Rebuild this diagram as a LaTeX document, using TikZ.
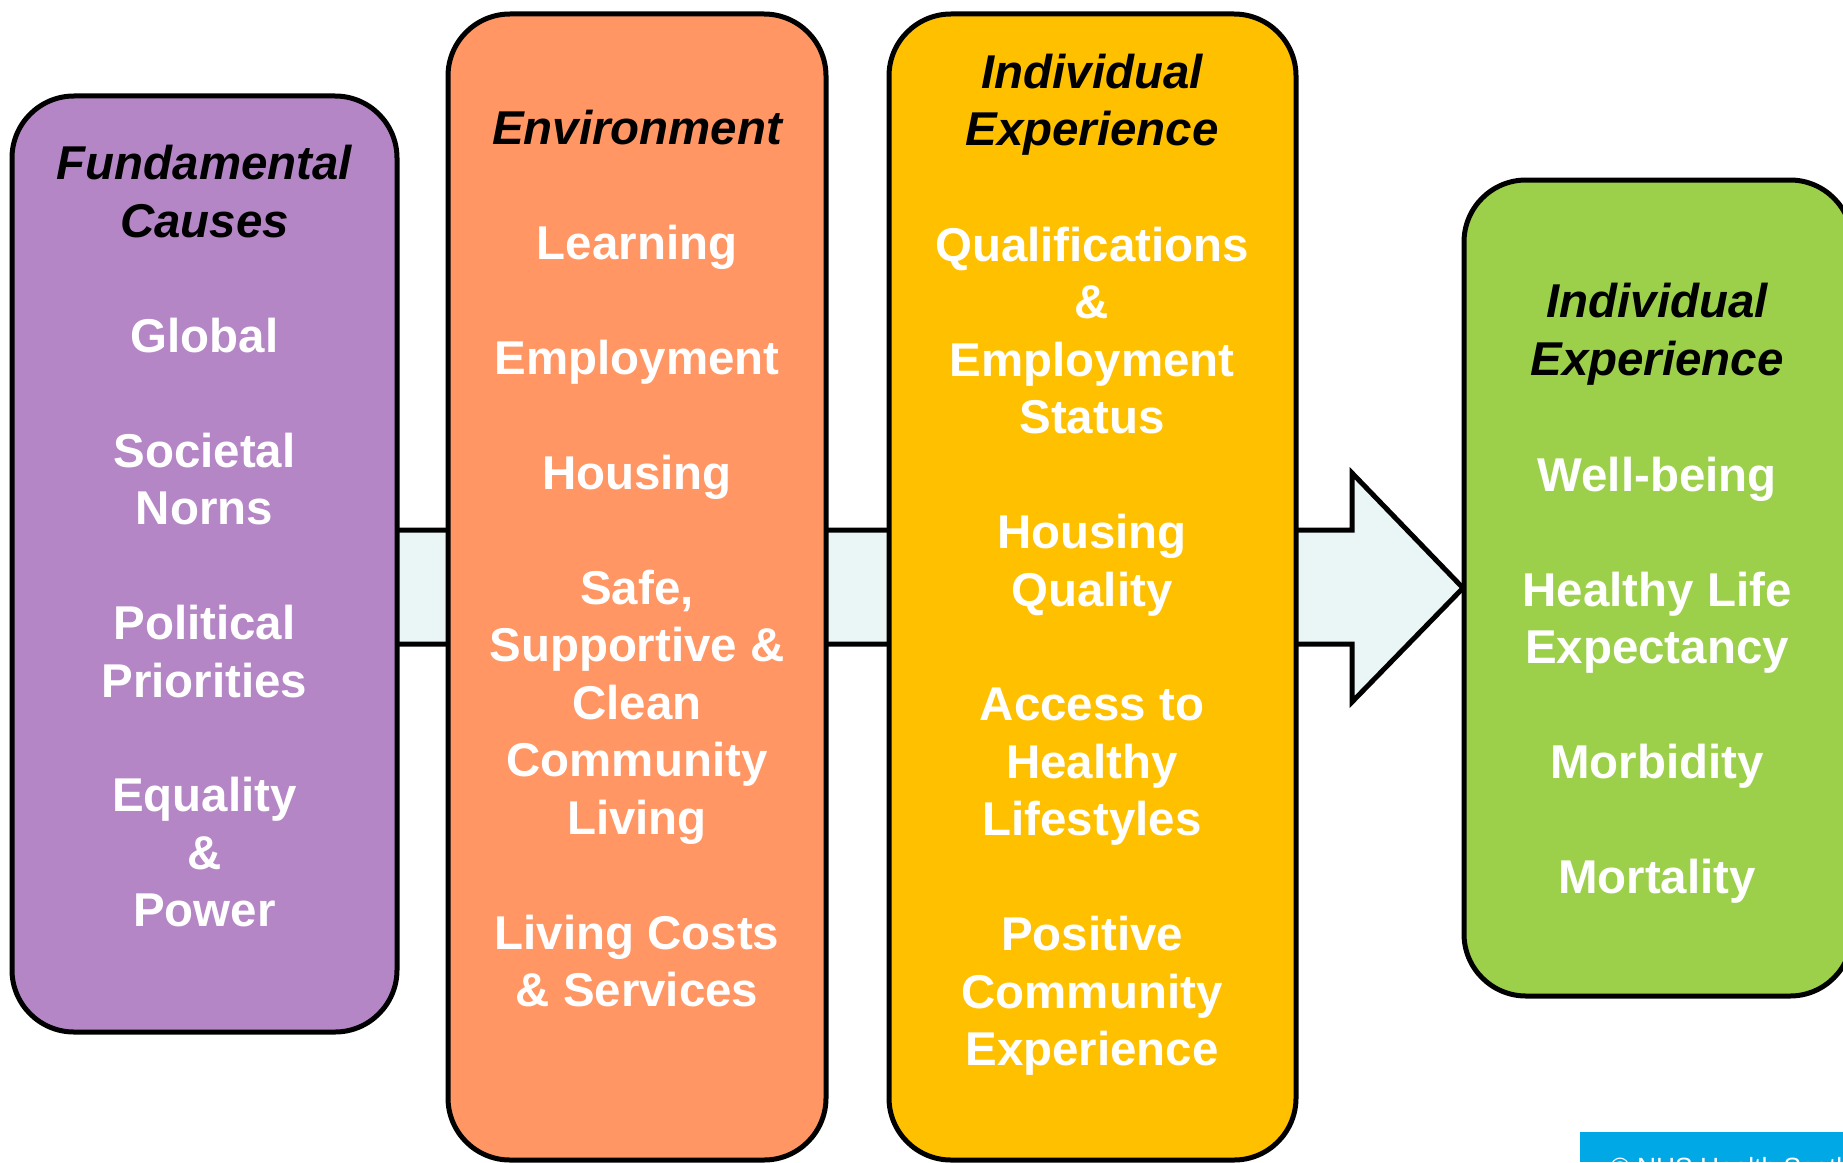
\documentclass[tikz,border=0pt]{standalone}
\usepackage{fontspec}
\setmainfont{Liberation Sans}
\definecolor{causepurple}{RGB}{181,134,197}
\definecolor{envorange}{RGB}{255,150,100}
\definecolor{expyellow}{RGB}{255,192,0}
\definecolor{outgreen}{RGB}{156,208,75}
\definecolor{flowfill}{RGB}{234,246,246}
\definecolor{nhsblue}{RGB}{0,168,230}
\newcommand{\blankline}{\\[32.7pt]}
\tikzset{
  column/.style={draw=black, line width=1mm, rounded corners=12.4mm},
  colhead/.style={anchor=north, align=center, inner sep=0pt, text=black,
    font=\fontsize{27}{32.7}\selectfont\bfseries\itshape},
  colitems/.style={anchor=north, align=center, inner sep=0pt, text=white,
    font=\fontsize{27}{32.7}\selectfont\bfseries}
}

\begin{document}
\begin{tikzpicture}[x=0.2mm, y=-0.2mm]
  \useasboundingbox (0,0) rectangle (1843,1162);

  % big arrow behind the columns
  \draw [fill=flowfill, line width=1mm, line join=miter]
    (330,530) -- (1352,530) -- (1352,473) -- (1463,588) -- (1352,702) -- (1352,644) -- (330,644) -- cycle;

  % columns
  \draw [column, fill=causepurple] (12,96) rectangle (397,1032);
  \draw [column, fill=envorange] (448,14) rectangle (826,1160);
  \draw [column, fill=expyellow] (889,14) rectangle (1296,1160);
  \draw [column, fill=outgreen] (1464,180) rectangle (1852,996);

  \node [colhead] (causeshead) at (204.5,145) {Fundamental\\Causes};
  \node [colitems] (causes) at (204.5,317.5) {Global\blankline Societal\\Norns\blankline Political\\Priorities\blankline Equality\\\&\\Power};

  \node [colhead] (envhead) at (637,110) {Environment};
  \node [colitems] (env) at (637,225) {Learning\blankline Employment\blankline Housing\blankline Safe,\\Supportive \&\\Clean\\Community\\Living\blankline Living Costs\\\& Services};

  \node [colhead] (exphead) at (1092,53.5) {Individual\\Experience};
  \node [colitems] (exp) at (1092,226.5) {Qualifications\\\&\\Employment\\Status\blankline Housing\\Quality\blankline Access to\\Healthy\\Lifestyles\blankline Positive\\Community\\Experience};

  \node [colhead] (outhead) at (1657,283) {Individual\\Experience};
  \node [colitems] (out) at (1657,456.5) {Well-being\blankline Healthy Life\\Expectancy\blankline Morbidity\blankline Mortality};

  % credit strip, cut off at the page edge
  \fill [nhsblue] (1580,1132) rectangle (1843,1162);
  \node [anchor=north west, inner sep=0pt, text=white, font=\fontsize{15}{18}\selectfont] (credit) at (1610,1157) {\copyright{} NHS Health Scotland};
\end{tikzpicture}
\end{document}
